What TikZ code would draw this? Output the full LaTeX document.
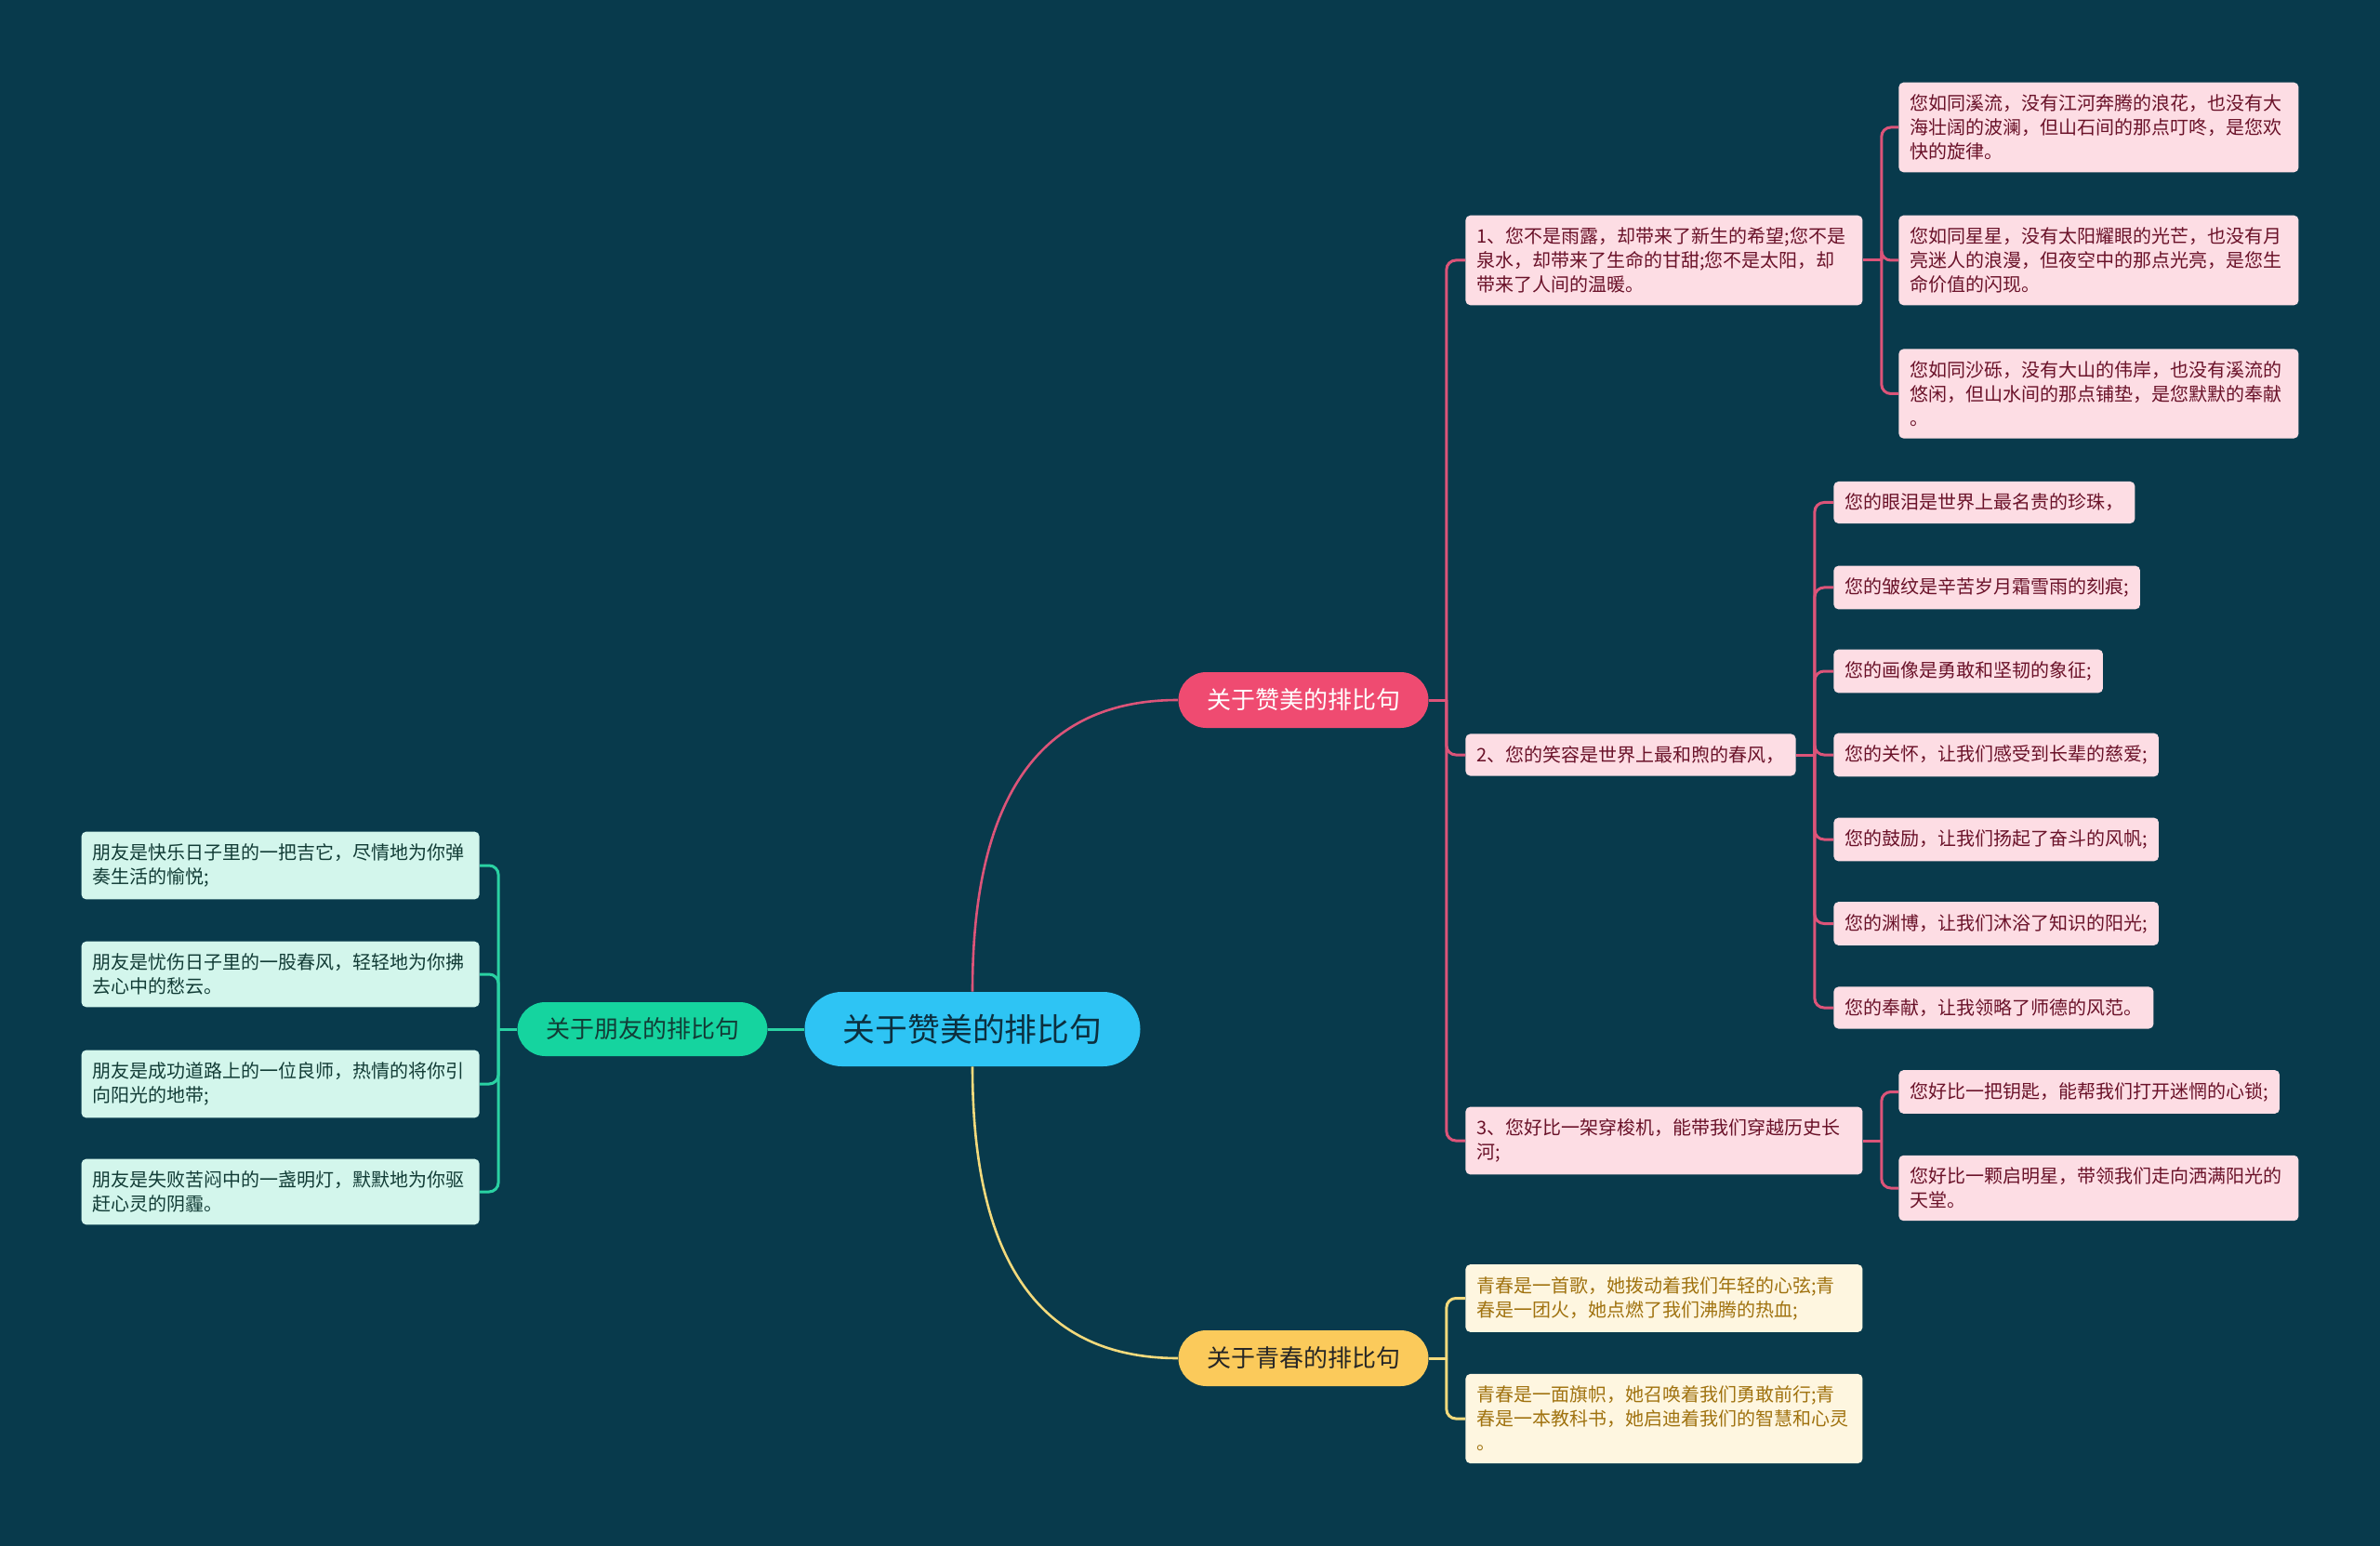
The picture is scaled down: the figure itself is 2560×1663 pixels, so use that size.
\documentclass[tikz,border=0pt]{standalone}
\usepackage{fontspec}
\newfontfamily\cjk{Noto Sans CJK SC}
\usepackage{tikz}
\usepackage{xcolor}
\definecolor{bgteal}{HTML}{083A4C}
\definecolor{rootblue}{HTML}{2EC4F4}
\definecolor{roottext}{HTML}{0C2F3E}
\definecolor{praisered}{HTML}{EF4B71}
\definecolor{praiseline}{HTML}{DC5479}
\definecolor{praiseleaf}{HTML}{FDDDE4}
\definecolor{praisetext}{HTML}{6A1229}
\definecolor{youthgold}{HTML}{FBCA5B}
\definecolor{youthline}{HTML}{F3DA7C}
\definecolor{youthleaf}{HTML}{FEF6E0}
\definecolor{youthtext}{HTML}{A0720F}
\definecolor{friendgreen}{HTML}{15D49F}
\definecolor{friendline}{HTML}{2AD2A3}
\definecolor{friendleaf}{HTML}{D3F6EC}
\definecolor{friendtext}{HTML}{123C36}

\begin{document}
\begin{tikzpicture}[x=0.5pt, y=-0.5pt,
  pill/.style={rectangle, rounded corners=15pt, minimum width=134.5pt,
               minimum height=30pt, inner sep=0pt,
               font=\cjk\fontsize{13}{15}\selectfont},
  card/.style={rectangle, rounded corners=2.5pt, align=left,
               inner xsep=6pt, inner ysep=6.5pt,
               font=\cjk\fontsize{10}{13}\selectfont},
  praisecard/.style={card, fill=praiseleaf, text=praisetext, anchor=west},
  youthcard/.style={card, fill=youthleaf, text=youthtext, anchor=west},
  friendcard/.style={card, fill=friendleaf, text=friendtext, anchor=east},
  praiseedge/.style={draw=praiseline, line width=1.5pt, rounded corners=5pt},
  youthedge/.style={draw=youthline, line width=1.5pt, rounded corners=5pt},
  friendedge/.style={draw=friendline, line width=1.5pt, rounded corners=5pt},
]
  \path[use as bounding box, fill=bgteal] (0,0) rectangle (2560,1663);

  % centre and main topics
  \node[pill, rounded corners=20pt, minimum width=180.5pt, minimum height=40pt,
        fill=rootblue, text=roottext, font=\cjk\fontsize{17.4}{20}\selectfont]
        (root) at (1046,1107) {关于赞美的排比句};
  \node[pill, fill=praisered, text=white] (praise) at (1402,753) {关于赞美的排比句};
  \node[pill, fill=youthgold, text=black!85] (youth) at (1402,1461) {关于青春的排比句};
  \node[pill, fill=friendgreen, text=friendtext, minimum height=29pt] (friend) at (691,1107) {关于朋友的排比句};

  % praise branch
  \node[praisecard, text width=201.5pt] (p1) at (1576,280)
    {1、您不是雨露，却带来了新生的希望;您不是\\泉水，却带来了生命的甘甜;您不是太阳，却\\带来了人间的温暖。};
  \node[praisecard] (p2) at (1576,812) {2、您的笑容是世界上最和煦的春风，};
  \node[praisecard, text width=201.5pt] (p3) at (1576,1227)
    {3、您好比一架穿梭机，能带我们穿越历史长\\河;};

  \node[praisecard, text width=203pt] (p1a) at (2042,137)
    {您如同溪流，没有江河奔腾的浪花，也没有大\\海壮阔的波澜，但山石间的那点叮咚，是您欢\\快的旋律。};
  \node[praisecard, text width=203pt] (p1b) at (2042,280)
    {您如同星星，没有太阳耀眼的光芒，也没有月\\亮迷人的浪漫，但夜空中的那点光亮，是您生\\命价值的闪现。};
  \node[praisecard, text width=203pt] (p1c) at (2042,423.5)
    {您如同沙砾，没有大山的伟岸，也没有溪流的\\悠闲，但山水间的那点铺垫，是您默默的奉献\\。};

  \node[praisecard] (p2a) at (1972,540.5) {您的眼泪是世界上最名贵的珍珠，};
  \node[praisecard] (p2b) at (1972,632) {您的皱纹是辛苦岁月霜雪雨的刻痕;};
  \node[praisecard] (p2c) at (1972,722) {您的画像是勇敢和坚韧的象征;};
  \node[praisecard] (p2d) at (1972,812) {您的关怀，让我们感受到长辈的慈爱;};
  \node[praisecard] (p2e) at (1972,903) {您的鼓励，让我们扬起了奋斗的风帆;};
  \node[praisecard] (p2f) at (1972,993.5) {您的渊博，让我们沐浴了知识的阳光;};
  \node[praisecard] (p2g) at (1972,1084) {您的奉献，让我领略了师德的风范。};

  \node[praisecard] (p3a) at (2042,1174.5) {您好比一把钥匙，能帮我们打开迷惘的心锁;};
  \node[praisecard, text width=203pt] (p3b) at (2042,1278)
    {您好比一颗启明星，带领我们走向洒满阳光的\\天堂。};

  % youth branch
  \node[youthcard, text width=201.5pt] (y1) at (1576,1396.5)
    {青春是一首歌，她拨动着我们年轻的心弦;青\\春是一团火，她点燃了我们沸腾的热血;};
  \node[youthcard, text width=201.5pt] (y2) at (1576,1526)
    {青春是一面旗帜，她召唤着我们勇敢前行;青\\春是一本教科书，她启迪着我们的智慧和心灵\\。};

  % friend branch
  \node[friendcard, text width=202pt] (f1) at (516,931)
    {朋友是快乐日子里的一把吉它，尽情地为你弹\\奏生活的愉悦;};
  \node[friendcard, text width=202pt] (f2) at (516,1048)
    {朋友是忧伤日子里的一股春风，轻轻地为你拂\\去心中的愁云。};
  \node[friendcard, text width=202pt] (f3) at (516,1166)
    {朋友是成功道路上的一位良师，热情的将你引\\向阳光的地带;};
  \node[friendcard, text width=202pt] (f4) at (516,1282)
    {朋友是失败苦闷中的一盏明灯，默默地为你驱\\赶心灵的阴霾。};

  % connectors
  \draw[draw=praiseline, line width=1.3pt] (root.north) .. controls +(0,-197) and +(-157,0) .. (praise.west);
  \draw[draw=youthline, line width=1.3pt] (root.south) .. controls +(0,197) and +(-157,0) .. (youth.west);
  \draw[friendedge] (root.west) -- (friend.east);

  \path (praise.east) ++(19,0) coordinate (praisehub);
  \path (p1.east) ++(20,0) coordinate (p1hub);
  \path (p2.east) ++(20,0) coordinate (p2hub);
  \path (p3.east) ++(20,0) coordinate (p3hub);
  \path (youth.east) ++(19,0) coordinate (youthhub);
  \path (friend.west) ++(-20,0) coordinate (friendhub);

  \draw[praiseedge] (praise.east) -- (praisehub);
  \foreach \c in {p1,p2,p3} \draw[praiseedge] (\c.west) -| (praisehub);
  \draw[praiseedge] (p1.east) -- (p1hub);
  \foreach \c in {p1a,p1b,p1c} \draw[praiseedge] (\c.west) -| (p1hub);
  \draw[praiseedge] (p2.east) -- (p2hub);
  \foreach \c in {p2a,p2b,p2c,p2d,p2e,p2f,p2g} \draw[praiseedge] (\c.west) -| (p2hub);
  \draw[praiseedge] (p3.east) -- (p3hub);
  \foreach \c in {p3a,p3b} \draw[praiseedge] (\c.west) -| (p3hub);

  \draw[youthedge] (youth.east) -- (youthhub);
  \foreach \c in {y1,y2} \draw[youthedge] (\c.west) -| (youthhub);

  \draw[friendedge] (friend.west) -- (friendhub);
  \foreach \c in {f1,f2,f3,f4} \draw[friendedge] (\c.east) -| (friendhub);
\end{tikzpicture}
\end{document}
